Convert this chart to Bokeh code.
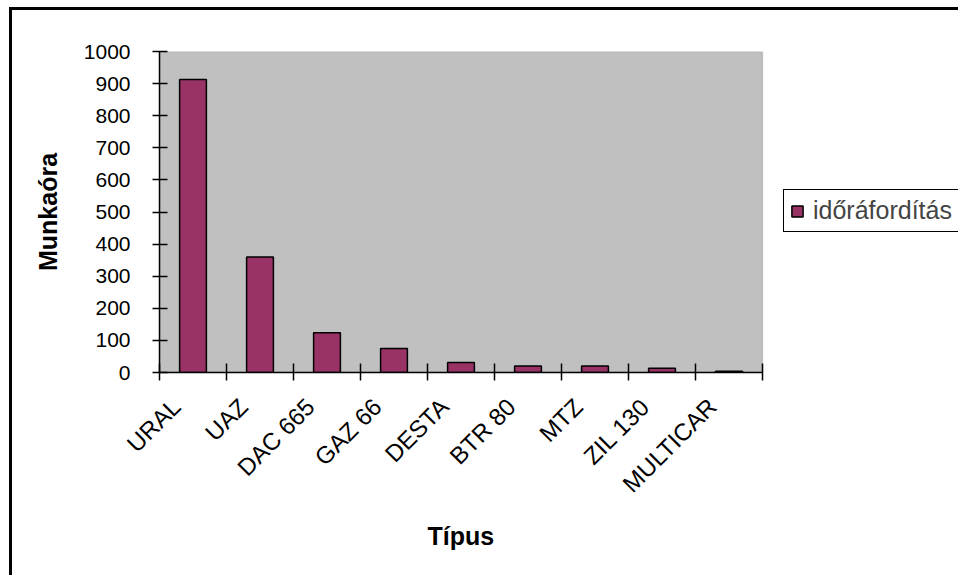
import math
from bokeh.plotting import figure
from bokeh.models import (Range1d, FixedTicker, Legend, LegendItem, ColumnDataSource,
                          BoxAnnotation, Title)
from bokeh.embed import file_html
from bokeh.resources import INLINE

categories = ["URAL", "UAZ", "DAC 665", "GAZ 66", "DESTA", "BTR 80", "MTZ", "ZIL 130", "MULTICAR"]
values = [913, 360, 124, 75, 31, 20, 20, 13, 4]
series_name = "időráfordítás"
x_title = "Típus"
y_title = "Munkaóra"
y_ticks = [0, 100, 200, 300, 400, 500, 600, 700, 800, 900, 1000]

FONT = "Liberation Sans"

n = len(categories)
idx = list(range(n))
src = ColumnDataSource(dict(x=idx, top=values, name=categories))

# frame spans to the right edge so the legend can sit inside it;
# the gray plot area covers only the category span (603 px for 9 categories)
x_end = -0.5 + 799 / (603 / n)

p = figure(width=958, height=575, output_backend="svg", toolbar_location=None,
           x_range=Range1d(-0.5, x_end), y_range=Range1d(0, 1000),
           min_border_left=159, min_border_right=0, min_border_top=51, min_border_bottom=203)

p.background_fill_color = None
p.border_fill_color = None
p.outline_line_color = None
p.grid.visible = False
p.styles = {"background": "linear-gradient(#000,#000) 9px 7px / 3px 600px no-repeat, "
                          "linear-gradient(#000,#000) 9px 7px / 1000px 3px no-repeat"}

area = BoxAnnotation(left=-0.5, right=n - 0.5, bottom=0, top=1000,
                     fill_color="#C0C0C0", fill_alpha=1,
                     line_color="#808080", line_width=1.5, level="underlay")
p.add_layout(area)

r = p.vbar(x="x", top="top", width=0.4, source=src, fill_color="#993366",
           line_color="black", line_width=1.5)

# x axis: labels slightly left of the bar centres, ticks on category boundaries
label_pos = [i - 0.25 for i in idx]
xa = p.xaxis[0]
xa.bounds = (-0.5, n - 0.5)
xa.ticker = FixedTicker(ticks=label_pos, minor_ticks=[i - 0.5 for i in range(n + 1)])
xa.major_label_overrides = {t: c for t, c in zip(label_pos, categories)}
xa.major_tick_line_color = None
xa.major_tick_out = 8
xa.major_tick_in = 0
xa.minor_tick_line_color = "black"
xa.minor_tick_line_width = 1.5
xa.minor_tick_in = 9
xa.minor_tick_out = 8
xa.major_label_orientation = math.pi / 4
xa.major_label_text_font = FONT
xa.major_label_text_font_size = "24px"
xa.major_label_text_color = "black"
xa.major_label_standoff = 22
xa.axis_line_color = "black"
xa.axis_line_width = 1.5

# x title centred under the gray plot area
t = Title(text=x_title, align="left", offset=268, standoff=18,
          text_font=FONT, text_font_style="bold", text_font_size="25px", text_color="black")
p.add_layout(t, "below")

# y axis
ya = p.yaxis[0]
ya.ticker = FixedTicker(ticks=y_ticks)
ya.major_tick_in = 8
ya.major_tick_out = 7
ya.major_tick_line_color = "black"
ya.major_tick_line_width = 1.5
ya.minor_tick_line_color = None
ya.axis_line_color = "black"
ya.axis_line_width = 1.5
ya.major_label_text_font = FONT
ya.major_label_text_font_size = "21px"
ya.major_label_text_color = "black"
ya.major_label_standoff = 22
ya.axis_label = y_title
ya.axis_label_text_font = FONT
ya.axis_label_text_font_style = "bold"
ya.axis_label_text_font_size = "25px"
ya.axis_label_text_color = "black"
ya.axis_label_standoff = 19

legend = Legend(items=[LegendItem(label=series_name, renderers=[r])],
                location=(624, 140), orientation="vertical")
legend.border_line_color = "black"
legend.border_line_width = 1
legend.border_line_alpha = 1
legend.background_fill_color = "white"
legend.background_fill_alpha = 1
legend.padding = 6
legend.margin = 0
legend.glyph_width = 14
legend.glyph_height = 14
legend.label_text_font = FONT
legend.label_text_font_size = "25px"
legend.label_standoff = 9
p.add_layout(legend, "center")

open("out.html", "w").write(file_html(p, INLINE))
